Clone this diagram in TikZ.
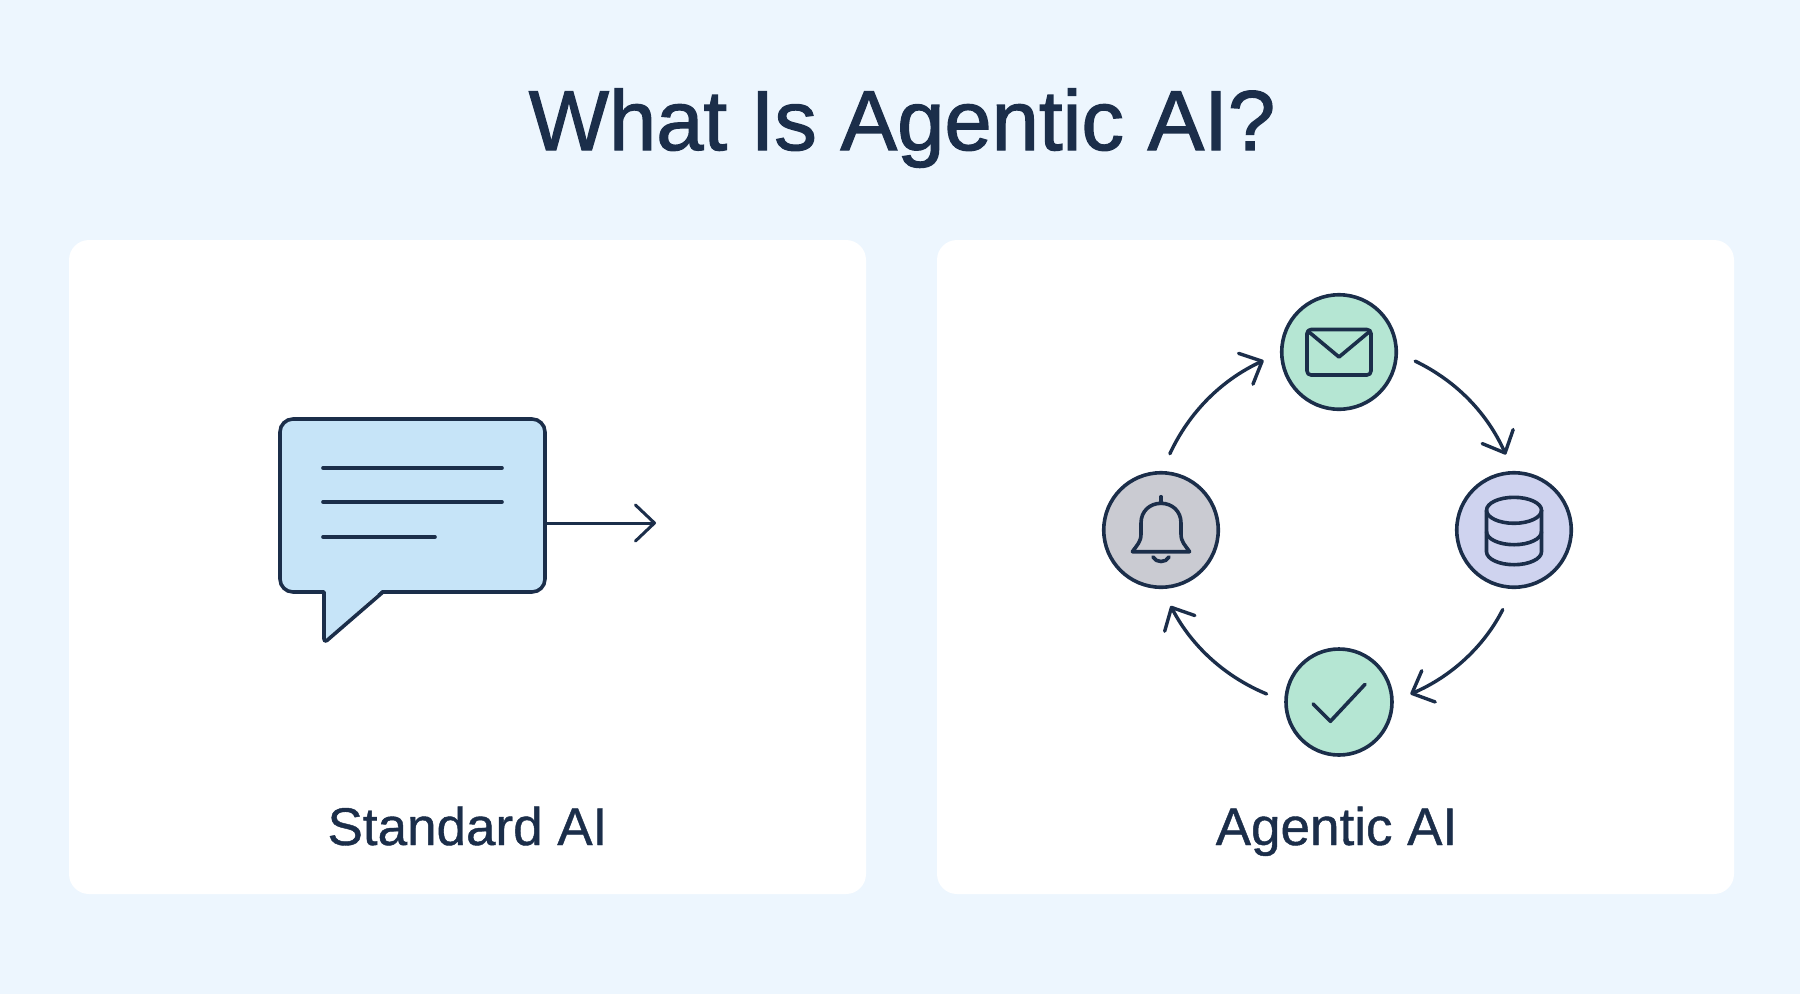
\documentclass[tikz,border=0pt]{standalone}
\usepackage{fontspec}
\setmainfont{Liberation Sans}
\newfontfamily\headfont[FakeBold=1.5]{Liberation Sans}
\newfontfamily\labelfont[FakeBold=0.8]{Liberation Sans}
\usetikzlibrary{arrows.meta,positioning}
\definecolor{ink}{HTML}{1B2E4A}
\definecolor{pageBlue}{HTML}{EDF6FE}
\definecolor{bubbleBlue}{HTML}{C6E4F8}
\definecolor{mintGreen}{HTML}{B5E6D3}
\definecolor{lilac}{HTML}{CFD3EF}
\definecolor{bellGrey}{HTML}{CACBD2}
\tikzstyle{card} = [rectangle, fill=white, rounded corners=20pt,
    minimum width=797pt, minimum height=654pt, inner sep=0pt, outer sep=0pt]
\tikzstyle{heading} = [text=ink, font=\headfont\fontsize{85}{90}\selectfont, inner sep=0pt, anchor=base]
\tikzstyle{cardLabel} = [text=ink, font=\labelfont\fontsize{53}{56}\selectfont, inner sep=0pt]
\tikzstyle{bubble} = [rectangle, draw=ink, line width=3.6pt, fill=bubbleBlue, rounded corners=13pt,
    minimum width=265pt, minimum height=173pt, inner sep=0pt, outer sep=0pt]
\tikzstyle{station} = [circle, draw=ink, line width=3.6pt, minimum size=114.5pt, inner sep=0pt, outer sep=0pt]
\tikzstyle{icon} = [draw=ink, line width=3.6pt, line cap=round, line join=round]
\tikzstyle{flow} = [draw=ink, line width=3.4pt, line cap=round, line join=round,
    -{Straight Barb[length=18pt,width=34pt,round]}]

\begin{document}
\begin{tikzpicture}[x=1pt, y=-1pt]
    \fill[pageBlue] (0,0) rectangle (1800,994);
    \useasboundingbox (0,0) rectangle (1800,994);

    \node[heading] (title) at (902,150) {What Is Agentic AI?};

    \node[card] (standardCard) at (467.5,567) {};
    \node[card, right=71pt of standardCard] (agenticCard) {};
    \node[cardLabel, above=49pt of standardCard.south, anchor=base] (standardLabel) {Standard AI};
    \node[cardLabel, above=49pt of agenticCard.south, anchor=base, xshift=1pt] (agenticLabel) {Agentic AI};

    \node[bubble] (chat) at (412.5,505.5) {};
    \fill[bubbleBlue] (324,589) -- (324,641) -- (383,589) -- cycle;
    \path[icon, rounded corners=4pt] (324,592) -- (324,643) -- (383,592);
    \path[icon] (323,468) -- (502,468);
    \path[icon] (323,502) -- (502,502);
    \path[icon] (323,537) -- (435,537);
    \coordinate (chatEnd) at (656,523);
    \path[draw=ink, line width=3pt, line cap=round, line join=round,
        -{Straight Barb[length=19pt,width=36pt,round]}] (chat.east |- chatEnd) -- (chatEnd);

    \coordinate (hub) at (1339,530);
    \node[station, fill=mintGreen, above=120.75pt of hub] (mail) {};
    \node[station, fill=lilac, right=117.75pt of hub] (database) {};
    \node[station, fill=mintGreen, minimum size=106pt, below=119pt of hub] (check) {};
    \node[station, fill=bellGrey, left=120.75pt of hub] (bell) {};

    \begin{scope}[shift={(mail)}]
        \path[icon, rounded corners=4pt] (-32,-22.5) rectangle (32,23);
        \path[icon] (-30,-20) -- (0,5) -- (30,-20);
    \end{scope}
    \begin{scope}[shift={(database)}]
        \path[icon] (0,-19.7) ellipse [x radius=27.5pt, y radius=13pt];
        \path[icon] (-27.5,-19.7) -- (-27.5,21.7) arc [start angle=180, end angle=360, x radius=27.5pt, y radius=13pt] -- (27.5,-19.7);
        \path[icon] (-27.5,1.7) arc [start angle=180, end angle=360, x radius=27.5pt, y radius=13pt];
    \end{scope}
    \begin{scope}[shift={(check)}]
        \path[icon] (-25.8,2) -- (-8.6,19.3) -- (26,-17.7);
    \end{scope}
    \begin{scope}[shift={(bell)}]
        \path[icon] (0,-33.3) -- (0,-26.7);
        \path[icon] (-28.6,21.7) -- (28.6,21.7) .. controls (24,15) and (20,12) .. (20,4)
            -- (20,-7) .. controls (20,-19) and (11,-26.7) .. (0,-26.7)
            .. controls (-11,-26.7) and (-20,-19) .. (-20,-7)
            -- (-20,4) .. controls (-20,12) and (-24,15) .. (-28.6,21.7) -- cycle;
        \path[icon] (-8,27) .. controls (-5,33) and (5,33) .. (8,27);
    \end{scope}

    \path[flow, shorten <=21pt, shorten >=20pt] (bell.north) to[bend left=20] (mail.west);
    \path[flow, shorten <=21pt, shorten >=20pt] (mail.east) to[bend left=20] (database.north);
    \path[flow, shorten <=25pt, shorten >=20pt] (database.south) to[bend left=20] (check.east);
    \path[flow, shorten <=21pt, shorten >=21pt] (check.west) to[bend left=20] (bell.south);
\end{tikzpicture}
\end{document}
